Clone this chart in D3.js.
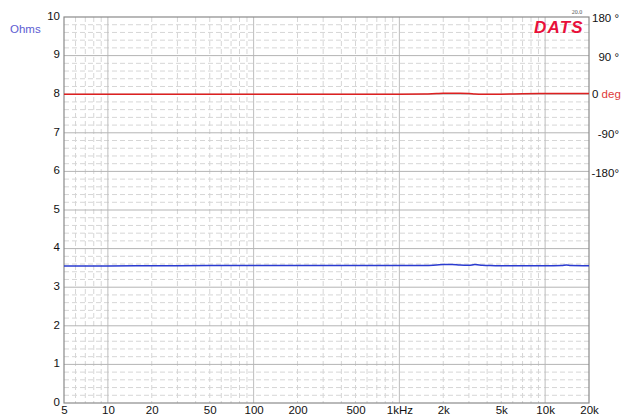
<!DOCTYPE html>
<html><head><meta charset="utf-8">
<script src="https://cdn.jsdelivr.net/npm/d3@7"></script>
<style>body{margin:0;background:#fff}svg{display:block;font-family:"Liberation Sans",Arial,sans-serif}</style>
</head><body><svg id="c" width="621" height="415"></svg>
<script>
const freqs = [5, 10, 20, 50, 100, 200, 500, 1000, 1500, 1800, 2000, 2300, 2600, 3000, 3300, 3700, 4200, 5000, 7000, 10000, 13000, 14000, 15000, 20000];
const ohms  = [3.55, 3.55, 3.555, 3.56, 3.56, 3.56, 3.56, 3.56, 3.56, 3.575, 3.585, 3.59, 3.575, 3.57, 3.585, 3.57, 3.56, 3.555, 3.555, 3.555, 3.56, 3.575, 3.56, 3.555];
const phase = [0, 0, 0, 0, 0, 0, 0, 0, 0.3, 1.5, 2, 2, 2, 1.5, 0.5, 0, 0, 0, 1, 1.5, 1.5, 1.5, 1.5, 1.5];
const xTicks = [5, 10, 20, 50, 100, 200, 500, 1000, 2000, 5000, 10000, 20000];
const xTickLabels = ["5", "10", "20", "50", "100", "200", "500", "1kHz", "2k", "5k", "10k", "20k"];
const yTicks = [0,1,2,3,4,5,6,7,8,9,10];
const phaseTicks = [180, 90, 0, -90, -180];
const phaseLabels = ["180 °", "90 °", "0", "-90°", "-180°"];

const svg = d3.select("#c");
const L = 64, R = 589, T = 17, B = 403;
const x = d3.scaleLog().domain([5, 20000]).range([L, R]);
const y = d3.scaleLinear().domain([0, 10]).range([B, T]);
const yp = d3.scaleLinear().domain([-180, 180]).range([y(6), y(10)]);
const FS = 11.5;

const g = svg.append("g");
const minorX = [];
for (let dec = 1; dec <= 10000; dec *= 10) for (let m = 2; m <= 9; m++) { const f = m*dec; if (f > 5 && f < 20000) minorX.push(f); }
g.selectAll(".vx").data(minorX).enter().append("line")
 .attr("x1", d => x(d)).attr("x2", d => x(d)).attr("y1", T).attr("y2", B)
 .attr("stroke", "#d6d6d6").attr("stroke-width", 1).attr("stroke-dasharray", "5,3");
const minorY = d3.range(0, 10.01, 0.2).filter(v => Math.abs(v - Math.round(v)) > 0.01);
g.selectAll(".hy").data(minorY).enter().append("line")
 .attr("x1", L).attr("x2", R).attr("y1", d => y(d)).attr("y2", d => y(d))
 .attr("stroke", "#d6d6d6").attr("stroke-width", 1).attr("stroke-dasharray", "5,3");
g.selectAll(".mx").data([10, 100, 1000, 10000]).enter().append("line")
 .attr("x1", d => x(d)).attr("x2", d => x(d)).attr("y1", T).attr("y2", B)
 .attr("stroke", "#bdbdbd").attr("stroke-width", 1);
g.selectAll(".my").data(yTicks.slice(1, 10)).enter().append("line")
 .attr("x1", L).attr("x2", R).attr("y1", d => y(d)).attr("y2", d => y(d))
 .attr("stroke", "#b4b4b4").attr("stroke-width", 1);
g.append("rect").attr("x", L).attr("y", T).attr("width", R - L).attr("height", B - T)
 .attr("fill", "none").attr("stroke", "#8a8a8a").attr("stroke-width", 1.2);

const xAxis = d3.axisBottom(x).tickValues(xTicks).tickFormat((d, i) => xTickLabels[i]).tickSize(0).tickPadding(3);
svg.append("g").attr("transform", `translate(0,${B})`).call(xAxis)
 .call(a => a.select(".domain").remove())
 .selectAll("text").attr("font-size", FS).attr("fill", "#111").attr("font-family", "Liberation Sans, Arial, sans-serif");
const yAxis = d3.axisLeft(y).tickValues(yTicks).tickFormat(d3.format("d")).tickSize(0).tickPadding(4);
svg.append("g").attr("transform", `translate(${L},0)`).call(yAxis)
 .call(a => a.select(".domain").remove())
 .selectAll("text").attr("font-size", FS).attr("fill", "#111").attr("dy", "0.2em").attr("font-family", "Liberation Sans, Arial, sans-serif");

const pr = svg.append("g");
phaseTicks.forEach((p, i) => {
  if (p === 0) {
    const t = pr.append("text").attr("x", 592).attr("y", yp(p)).attr("dy", "0.35em").attr("font-size", FS);
    t.append("tspan").attr("fill", "#111").text("0 ");
    t.append("tspan").attr("fill", "#e03a3a").text("deg");
  } else {
    pr.append("text").attr("x", 619).attr("y", yp(p)).attr("dy", "0.45em").attr("text-anchor", "end")
      .attr("font-size", FS).attr("fill", "#111").text(phaseLabels[i]);
  }
});

svg.append("text").attr("x", 10).attr("y", 33).attr("font-size", FS).attr("fill", "#5c5cd2").text("Ohms");

const lineZ = d3.line().x((d, i) => x(freqs[i])).y(d => y(d)).curve(d3.curveMonotoneX);
svg.append("path").datum(ohms).attr("d", lineZ).attr("fill", "none").attr("stroke", "#2a3bd0").attr("stroke-width", 1.5);
const lineP = d3.line().x((d, i) => x(freqs[i])).y(d => yp(d)).curve(d3.curveMonotoneX);
svg.append("path").datum(phase).attr("d", lineP).attr("fill", "none").attr("stroke", "#dd2020").attr("stroke-width", 1.5);

svg.append("text").attr("x", 559).attr("y", 33).attr("text-anchor", "middle").attr("font-size", 17)
 .attr("font-weight", "bold").attr("font-style", "italic").attr("fill", "#e8103a").attr("letter-spacing", 1.2).text("DATS");
svg.append("text").attr("x", 577).attr("y", 14).attr("text-anchor", "middle").attr("font-size", 6)
 .attr("fill", "#555").attr("font-family", "Liberation Serif, serif").text("20.0");
</script></body></html>
